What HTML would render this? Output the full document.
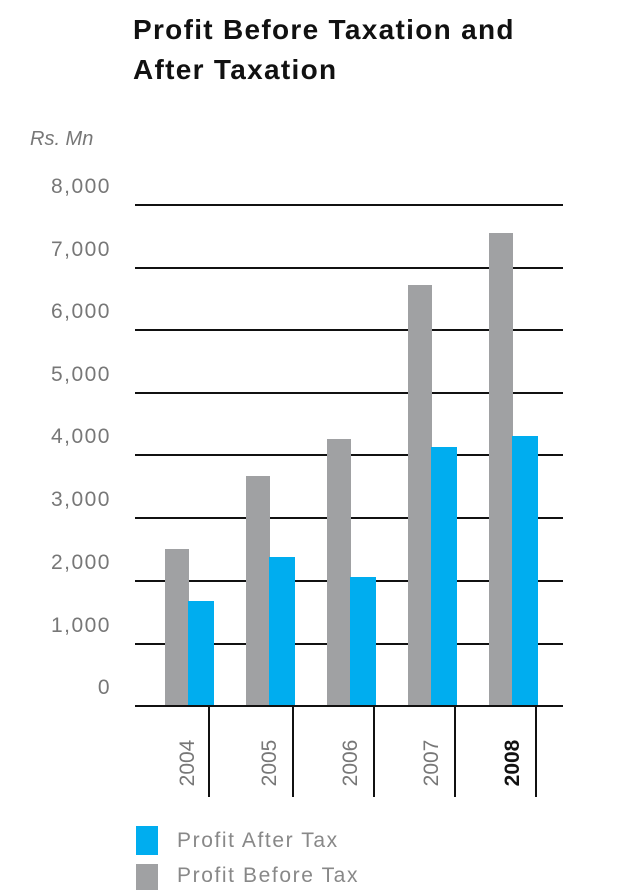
<!DOCTYPE html>
<html><head><style>
body{margin:0;background:#fff;width:634px;height:890px;overflow:hidden;position:relative;font-family:"Liberation Sans",sans-serif}
.a{position:absolute}
.t{left:133px;top:10px;font-weight:bold;font-size:28px;line-height:40px;color:#111;letter-spacing:1.3px}
.yl{right:523px;width:100px;text-align:right;font-size:21px;color:#777;letter-spacing:1.5px}
.g{background:#a0a1a3}.b{background:#00adef}
.yr{font-size:21px;color:#777;transform:rotate(-90deg);width:60px;text-align:center;height:24px;line-height:24px}
.lg{font-size:21px;color:#888;letter-spacing:1.6px}
</style></head><body>
<div class="a t">Profit Before Taxation and<br>After Taxation</div>
<div class="a" style="left:30px;top:128px;font-size:20px;font-style:italic;color:#777">Rs. Mn</div>
<div class="a yl" style="top:175px">8,000</div>
<div class="a yl" style="top:238px">7,000</div>
<div class="a yl" style="top:300px">6,000</div>
<div class="a yl" style="top:363px">5,000</div>
<div class="a yl" style="top:425px">4,000</div>
<div class="a yl" style="top:488px">3,000</div>
<div class="a yl" style="top:551px">2,000</div>
<div class="a yl" style="top:614px">1,000</div>
<div class="a yl" style="top:676px">0</div>
<div class="a" style="left:135px;top:204px;width:428px;height:2px;background:#111"></div>
<div class="a" style="left:135px;top:267px;width:428px;height:2px;background:#111"></div>
<div class="a" style="left:135px;top:329px;width:428px;height:2px;background:#111"></div>
<div class="a" style="left:135px;top:392px;width:428px;height:2px;background:#111"></div>
<div class="a" style="left:135px;top:454px;width:428px;height:2px;background:#111"></div>
<div class="a" style="left:135px;top:517px;width:428px;height:2px;background:#111"></div>
<div class="a" style="left:135px;top:580px;width:428px;height:2px;background:#111"></div>
<div class="a" style="left:135px;top:643px;width:428px;height:2px;background:#111"></div>
<div class="a g" style="left:165px;top:549px;width:24px;height:157px"></div>
<div class="a b" style="left:188px;top:601px;width:26px;height:105px"></div>
<div class="a g" style="left:246px;top:476px;width:24px;height:230px"></div>
<div class="a b" style="left:269px;top:557px;width:26px;height:149px"></div>
<div class="a g" style="left:327px;top:439px;width:24px;height:267px"></div>
<div class="a b" style="left:350px;top:577px;width:26px;height:129px"></div>
<div class="a g" style="left:408px;top:285px;width:24px;height:421px"></div>
<div class="a b" style="left:431px;top:447px;width:26px;height:259px"></div>
<div class="a g" style="left:489px;top:233px;width:24px;height:473px"></div>
<div class="a b" style="left:512px;top:436px;width:26px;height:270px"></div>
<div class="a" style="left:135px;top:705px;width:428px;height:2px;background:#111"></div>
<div class="a" style="left:208px;top:706px;width:2px;height:91px;background:#111"></div>
<div class="a" style="left:292px;top:706px;width:2px;height:91px;background:#111"></div>
<div class="a" style="left:373px;top:706px;width:2px;height:91px;background:#111"></div>
<div class="a" style="left:454px;top:706px;width:2px;height:91px;background:#111"></div>
<div class="a" style="left:535px;top:706px;width:2px;height:91px;background:#111"></div>
<div class="a yr" style="left:158px;top:751px">2004</div>
<div class="a yr" style="left:240px;top:751px">2005</div>
<div class="a yr" style="left:321px;top:751px">2006</div>
<div class="a yr" style="left:402px;top:751px">2007</div>
<div class="a yr" style="left:483px;top:751px;font-weight:bold;color:#111">2008</div>
<div class="a b" style="left:136px;top:826px;width:22px;height:29px"></div>
<div class="a g" style="left:136px;top:864px;width:22px;height:26px"></div>
<div class="a lg" style="left:177px;top:829px">Profit After Tax</div>
<div class="a lg" style="left:177px;top:864px">Profit Before Tax</div>
</body></html>
